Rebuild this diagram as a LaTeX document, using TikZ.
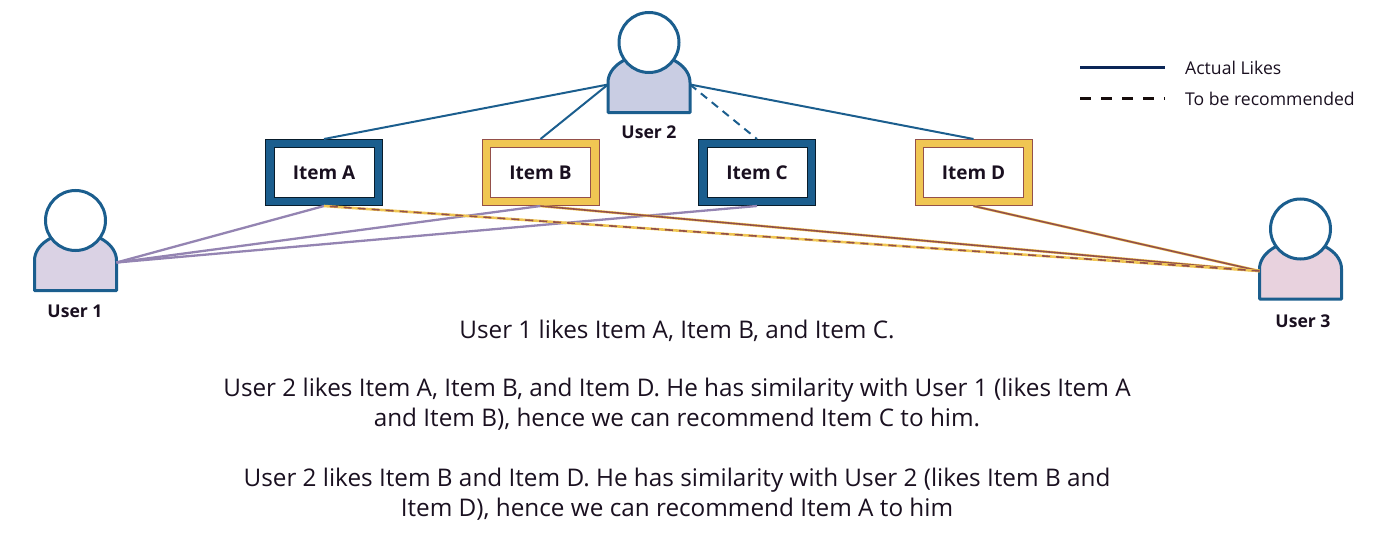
\documentclass[tikz,border=0pt]{standalone}
\usepackage{fontspec}
\setmainfont{Open Sans}
\usetikzlibrary{positioning}

\definecolor{ublue}{HTML}{1B5E8E}
\definecolor{uyellow}{HTML}{F0C653}
\definecolor{ubrown}{HTML}{94504A}
\definecolor{upurple}{HTML}{9484B2}
\definecolor{uink}{HTML}{1A1020}
\definecolor{fillone}{HTML}{DAD2E4}
\definecolor{filltwo}{HTML}{C9CDE3}
\definecolor{fillthree}{HTML}{E8D2DE}

\begin{document}
\begin{tikzpicture}[
    x=1pt, y=-1pt,
    every node/.style={text=uink},
    headnode/.style={circle, draw=ublue, line width=3pt, fill=white, minimum size=60pt, inner sep=0pt},
    userlbl/.style={font=\fontsize{17.6}{20}\selectfont\bfseries, inner sep=0pt},
    framebox/.style={draw, line width=1pt, minimum width=117pt, minimum height=66pt, inner sep=0pt},
    bluebox/.style={framebox, draw=black!70!ublue, fill=ublue},
    yellowbox/.style={framebox, draw=ubrown, fill=uyellow},
    innerbox/.style={draw, line width=0.8pt, fill=white, minimum width=100pt, minimum height=50pt, inner sep=0pt, font=\fontsize{19}{22}\selectfont\bfseries},
    line2/.style={draw=ublue, line width=2pt},
    line1/.style={draw=upurple, line width=2.3pt},
    line3/.style={draw=ubrown, line width=1.6pt, preaction={draw=uyellow, line width=2.6pt}},
    noteline/.style={font=\fontsize{24.3}{30}\selectfont, align=center, inner sep=0pt},
    legtxt/.style={font=\fontsize{17.6}{20}\selectfont, anchor=west, inner sep=0pt},
    pics/userfig/.style={code={
      \draw[ublue, line width=3pt, fill=#1, line join=round]
        (-41,70) -- (-41,40) arc[start angle=180, end angle=360, x radius=41, y radius=28] -- (41,70) -- cycle;
      \coordinate (-west) at (-41,42);
      \coordinate (-east) at (41,42);
      \node[headnode] (-head) at (0,0) {};
    }}
  ]

    \useasboundingbox (0,0) rectangle (1400,535);

    %% users
    \pic (user1) at (75.5,220.5) {userfig=fillone};
    \pic (user2) at (649,42.5) {userfig=filltwo};
    \pic (user3) at (1300.5,229) {userfig=fillthree};
    \node[userlbl] (lbl1) at (75,311) {User 1};
    \node[userlbl] (lbl2) at (649,132) {User 2};
    \node[userlbl] (lbl3) at (1303,321) {User 3};

    %% items
    \node[bluebox] (itemA) at (324,172.5) {};
    \node[innerbox, draw=black!70!ublue] (txtA) at (itemA) {Item A};
    \node[yellowbox] (itemB) at (540.5,172.5) {};
    \node[innerbox, draw=ubrown] (txtB) at (itemB) {Item B};
    \node[bluebox] (itemC) at (757,172.5) {};
    \node[innerbox, draw=black!70!ublue] (txtC) at (itemC) {Item C};
    \node[yellowbox] (itemD) at (973.5,172.5) {};
    \node[innerbox, draw=ubrown] (txtD) at (itemD) {Item D};

    %% user 2
    \draw[line2] (user2-west) -- (itemA.north);
    \draw[line2] (user2-west) -- (itemB.north);
    \draw[line2, dash pattern=on 8pt off 6pt] (user2-east) -- (itemC.north);
    \draw[line2] (user2-east) -- (itemD.north);

    %% user 1
    \draw[line1] (user1-east) -- (itemA.south);
    \draw[line1] (user1-east) -- (itemB.south);
    \draw[line1] (user1-east) -- (itemC.south);

    %% user 3
    \draw[line3] (user3-west) -- (itemB.south);
    \draw[line3] (user3-west) -- (itemD.south);
    \draw[line3, dash pattern=on 8pt off 6pt] (user3-west) -- (itemA.south);

    %% legend
    \coordinate (legA) at (1080,68);
    \coordinate (legB) at (1080,98);
    \node[legtxt] (lblA) at (1185,68) {Actual Likes};
    \node[legtxt] (lblB) at (1185,98.5) {To be recommended};
    \draw[line width=3pt, draw=black!80!blue!60!ublue] (legA) -- ++(85,0);
    \draw[line width=3pt, draw=black!85!ubrown, dash pattern=on 11pt off 10pt] (legB) -- ++(85,0);

    %% text
    \node[noteline] (note1) at (677,330.5) {User 1 likes Item A, Item B, and Item C.};
    \node[noteline] (note2) at (677,404.5) {User 2 likes Item A, Item B, and Item D. He has similarity with User 1 (likes Item A\\and Item B), hence we can recommend Item C to him.};
    \node[noteline] (note3) at (677,494.5) {User 2 likes Item B and Item D. He has similarity with User 2 (likes Item B and\\Item D), hence we can recommend Item A to him};

\end{tikzpicture}
\end{document}
